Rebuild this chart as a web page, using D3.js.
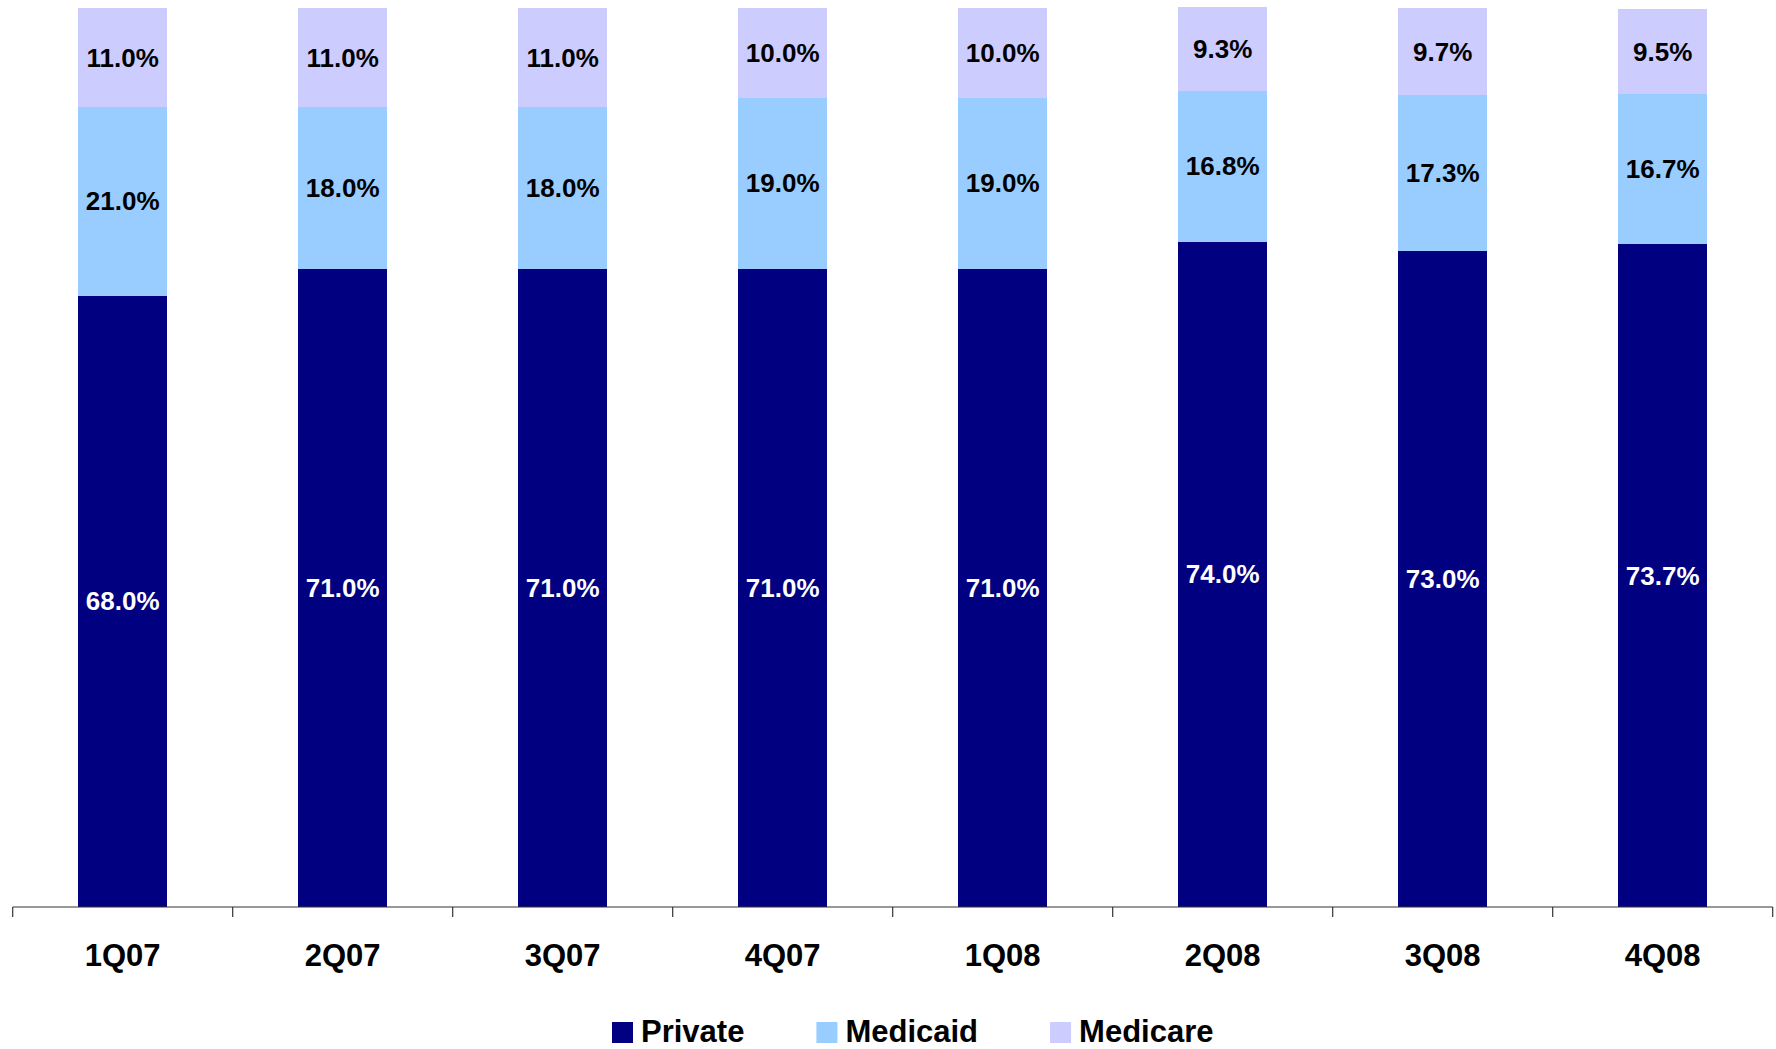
<!DOCTYPE html>
<html>
<head>
<meta charset="utf-8">
<script src="https://cdn.jsdelivr.net/npm/d3@7"></script>
<style>
  html, body { margin: 0; padding: 0; background: #fff; }
  svg { display: block; font-family: "Liberation Sans", Arial, Helvetica, sans-serif; }
</style>
</head>
<body>
<svg id="chart" width="1776" height="1049"></svg>
<script>
// Payor mix by quarter (% of revenue)
const categories = ["1Q07", "2Q07", "3Q07", "4Q07", "1Q08", "2Q08", "3Q08", "4Q08"];
const privateShare  = [68.0, 71.0, 71.0, 71.0, 71.0, 74.0, 73.0, 73.7];
const medicaidShare = [21.0, 18.0, 18.0, 19.0, 19.0, 16.8, 17.3, 16.7];
const medicareShare = [11.0, 11.0, 11.0, 10.0, 10.0, 9.3, 9.7, 9.5];

const seriesNames = ["Private", "Medicaid", "Medicare"];
const seriesColors = ["#000080", "#99CCFF", "#CCCCFF"];
const labelColors = ["#ffffff", "#000000", "#000000"];

const rows = categories.map((c, i) => ({
  quarter: c,
  Private: privateShare[i],
  Medicaid: medicaidShare[i],
  Medicare: medicareShare[i]
}));

const svg = d3.select("#chart");
const axisY = 907;
const plotTop = 8;
const left = 12.7, right = 1772.7;

const x = d3.scaleBand().domain(categories).range([left, right]).padding(0);
const y = d3.scaleLinear().domain([0, 100]).range([axisY, plotTop]);
const color = d3.scaleOrdinal().domain(seriesNames).range(seriesColors);
const textColor = d3.scaleOrdinal().domain(seriesNames).range(labelColors);

const barW = x.bandwidth() * 0.403;
const fmt = v => d3.format(".1f")(v) + "%";

const stacked = d3.stack().keys(seriesNames)(rows);

const layers = svg.append("g").selectAll("g")
  .data(stacked)
  .join("g")
  .attr("fill", d => color(d.key));

layers.selectAll("rect")
  .data(d => d)
  .join("rect")
  .attr("x", d => x(d.data.quarter) + (x.bandwidth() - barW) / 2)
  .attr("y", d => y(d[1]))
  .attr("width", barW)
  .attr("height", d => y(d[0]) - y(d[1]))
  .attr("shape-rendering", "crispEdges");

// Value labels centred in each segment
const labels = svg.append("g").selectAll("g")
  .data(stacked)
  .join("g")
  .attr("fill", d => textColor(d.key));

labels.selectAll("text")
  .data(d => d.map(s => ({ s, key: d.key })))
  .join("text")
  .attr("x", d => x(d.s.data.quarter) + x.bandwidth() / 2)
  .attr("y", d => (y(d.s[0]) + y(d.s[1])) / 2)
  .attr("dy", "0.35em")
  .attr("text-anchor", "middle")
  .attr("font-size", 26)
  .attr("font-weight", "bold")
  .text(d => fmt(d.s.data[d.key]));

// Category axis: baseline with ticks at band boundaries
const axisG = svg.append("g");
axisG.append("line")
  .attr("x1", left).attr("x2", right)
  .attr("y1", axisY).attr("y2", axisY)
  .attr("stroke", "#333").attr("stroke-width", 1.2);

const boundaries = categories.map(c => x(c)).concat([x(categories[categories.length - 1]) + x.bandwidth()]);
axisG.selectAll("line.tick")
  .data(boundaries)
  .join("line")
  .attr("class", "tick")
  .attr("x1", d => d).attr("x2", d => d)
  .attr("y1", axisY).attr("y2", axisY + 10)
  .attr("stroke", "#333").attr("stroke-width", 1.2);

axisG.selectAll("text")
  .data(categories)
  .join("text")
  .attr("x", d => x(d) + x.bandwidth() / 2)
  .attr("y", 966)
  .attr("text-anchor", "middle")
  .attr("font-size", 31)
  .attr("font-weight", "bold")
  .attr("fill", "#000")
  .text(d => d);

// Legend
const legend = svg.append("g");
let lx = 612;
seriesNames.forEach(name => {
  legend.append("rect")
    .attr("x", lx).attr("y", 1022)
    .attr("width", 21).attr("height", 21)
    .attr("fill", color(name));
  const t = legend.append("text")
    .attr("x", lx + 29).attr("y", 1042)
    .attr("font-size", 31)
    .attr("font-weight", "bold")
    .attr("fill", "#000")
    .text(name);
  lx += 29 + t.node().getComputedTextLength() + 72;
});
</script>
</body>
</html>
